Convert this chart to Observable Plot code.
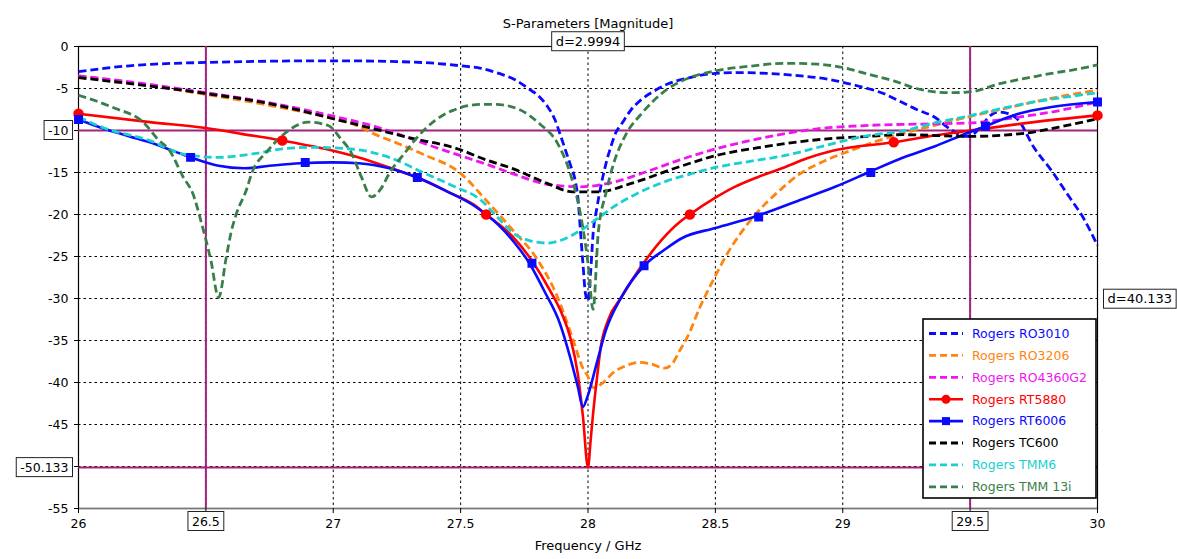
<!DOCTYPE html>
<html>
<head>
<meta charset="utf-8">
<script src="https://cdn.jsdelivr.net/npm/d3@7"></script>
<script src="https://cdn.jsdelivr.net/npm/@observablehq/plot@0.6"></script>
<style>
  html, body { margin: 0; padding: 0; background: #fff; }
  #chart svg { display: block; font-family: "DejaVu Sans", Verdana, sans-serif; }
</style>
</head>
<body>
<div id="chart"></div>
<script>
// ---------- data (frequency GHz, magnitude dB) ----------
const ro3010 = [[26,-3.0],[26.1,-2.6],[26.2,-2.3],[26.3,-2.1],[26.5,-1.9],[26.75,-1.75],[27.0,-1.7],[27.25,-1.8],[27.4,-2.0],[27.5,-2.3],[27.58,-2.6],[27.65,-3.2],[27.71,-3.9],[27.77,-5.1],[27.81,-6.0],[27.84,-7.1],[27.87,-8.7],[27.89,-10.4],[27.91,-12.2],[27.93,-14.0],[27.95,-16.0],[27.96,-17.9],[27.97,-21.8],[27.98,-25.8],[27.99,-29.4],[28.0,-30.3],[28.01,-27.0],[28.02,-22.3],[28.035,-19.2],[28.05,-16.7],[28.07,-14.0],[28.09,-11.9],[28.11,-10.2],[28.13,-9.3],[28.17,-7.5],[28.21,-6.3],[28.26,-5.3],[28.31,-4.5],[28.4,-3.7],[28.5,-3.2],[28.6,-3.1],[28.7,-3.2],[28.8,-3.4],[28.96,-4.0],[29.06,-4.7],[29.16,-5.6],[29.23,-6.6],[29.29,-7.5],[29.36,-8.4],[29.42,-9.8],[29.48,-10.7],[29.51,-10.5],[29.54,-9.6],[29.58,-8.2],[29.61,-7.8],[29.65,-8.0],[29.69,-8.8],[29.75,-12.0],[29.82,-14.8],[29.88,-17.5],[29.95,-20.7],[30,-23.7]];
const ro3206 = [[26,-3.5],[26.25,-4.5],[26.5,-5.7],[26.75,-7.0],[27.0,-8.6],[27.1,-9.5],[27.16,-10.4],[27.25,-11.5],[27.35,-12.8],[27.5,-15.1],[27.6,-18.3],[27.7,-21.7],[27.8,-25.3],[27.88,-29.8],[27.94,-34.8],[27.98,-38.3],[28.0,-39.3],[28.02,-40.6],[28.06,-40.0],[28.1,-38.8],[28.15,-38.0],[28.2,-37.6],[28.25,-37.8],[28.3,-38.3],[28.33,-37.8],[28.36,-36.2],[28.39,-34.6],[28.44,-31.0],[28.49,-27.9],[28.55,-24.5],[28.6,-22.2],[28.66,-19.9],[28.75,-17.2],[28.83,-15.2],[28.93,-13.6],[29.03,-12.4],[29.13,-11.3],[29.23,-10.4],[29.36,-9.4],[29.49,-8.4],[29.62,-7.5],[29.75,-6.6],[29.88,-5.8],[30,-5.2]];
const ro4360g2 = [[26,-3.5],[26.25,-4.4],[26.5,-5.5],[26.75,-6.7],[27.0,-8.3],[27.15,-9.4],[27.29,-10.8],[27.4,-12.0],[27.5,-13.0],[27.6,-14.0],[27.71,-15.2],[27.84,-16.4],[27.97,-16.7],[28.08,-16.3],[28.23,-14.9],[28.36,-13.5],[28.5,-12.2],[28.7,-10.8],[28.9,-9.8],[29.1,-9.4],[29.36,-9.2],[29.5,-9.1],[29.6,-8.8],[29.69,-8.4],[29.82,-7.8],[30,-6.6]];
const rt5880 = [[26,-8.0],[26.28,-9.0],[26.5,-9.7],[26.64,-10.4],[26.8,-11.2],[27.0,-12.4],[27.1,-13.2],[27.22,-14.4],[27.33,-15.6],[27.45,-17.3],[27.55,-18.8],[27.6,-20.0],[27.7,-22.5],[27.78,-25.5],[27.85,-29.0],[27.9,-32.0],[27.93,-34.6],[27.96,-39.0],[27.98,-44.0],[28.0,-50.1],[28.01,-47.0],[28.02,-43.7],[28.035,-39.5],[28.05,-35.8],[28.08,-32.5],[28.13,-29.9],[28.22,-25.7],[28.29,-23.0],[28.36,-20.9],[28.4,-20.0],[28.5,-18.0],[28.57,-16.8],[28.67,-15.5],[28.77,-14.4],[28.86,-13.3],[28.96,-12.4],[29.2,-11.4],[29.36,-10.6],[29.5,-10.0],[29.75,-9.0],[30,-8.2]];
const rt6006 = [[26,-8.7],[26.1,-9.8],[26.2,-10.7],[26.28,-11.4],[26.36,-12.3],[26.44,-13.2],[26.55,-14.2],[26.65,-14.5],[26.75,-14.2],[26.87,-13.9],[27.0,-13.8],[27.1,-13.9],[27.22,-14.5],[27.33,-15.6],[27.45,-17.3],[27.55,-18.9],[27.65,-21.3],[27.71,-23.3],[27.77,-25.8],[27.83,-29.2],[27.89,-33.0],[27.93,-37.0],[27.96,-40.5],[27.98,-42.9],[28.0,-41.5],[28.03,-38.2],[28.07,-33.8],[28.13,-29.9],[28.22,-26.1],[28.3,-24.2],[28.37,-22.8],[28.5,-21.6],[28.66,-20.2],[28.83,-18.3],[28.97,-16.7],[29.1,-15.0],[29.23,-13.3],[29.36,-11.9],[29.49,-10.3],[29.55,-9.6],[29.69,-8.0],[29.82,-7.2],[30,-6.6]];
const tc600 = [[26,-3.7],[26.25,-4.6],[26.5,-5.6],[26.75,-6.8],[27.0,-8.6],[27.16,-9.8],[27.29,-10.8],[27.49,-12.2],[27.6,-13.5],[27.71,-14.6],[27.84,-16.3],[27.94,-17.3],[28.04,-17.3],[28.17,-16.3],[28.36,-14.3],[28.5,-13.0],[28.7,-11.9],[28.9,-11.1],[29.1,-10.7],[29.23,-10.5],[29.5,-10.7],[29.72,-10.3],[29.88,-9.4],[30,-8.6]];
const tmm6 = [[26,-8.4],[26.1,-9.7],[26.28,-11.2],[26.41,-12.8],[26.55,-13.2],[26.68,-12.8],[26.8,-12.2],[26.9,-12.0],[27.07,-12.2],[27.22,-13.2],[27.36,-15.1],[27.47,-16.6],[27.58,-18.3],[27.65,-20.5],[27.71,-22.3],[27.77,-23.1],[27.84,-23.4],[27.9,-23.0],[27.97,-21.9],[28.05,-20.2],[28.1,-19.1],[28.2,-17.4],[28.31,-16.0],[28.4,-15.2],[28.5,-14.4],[28.63,-13.7],[28.77,-13.0],[28.93,-11.8],[29.1,-10.6],[29.23,-10.1],[29.36,-9.1],[29.49,-8.3],[29.62,-7.4],[29.75,-6.6],[29.88,-6.0],[30,-5.5]];
const tmm13i = [[26,-5.8],[26.13,-7.2],[26.26,-9.2],[26.31,-11.0],[26.36,-12.5],[26.41,-15.5],[26.45,-17.6],[26.48,-20.7],[26.5,-23.0],[26.52,-25.5],[26.55,-29.9],[26.58,-25.1],[26.6,-22.0],[26.62,-19.9],[26.66,-17.0],[26.68,-15.1],[26.74,-12.5],[26.8,-10.6],[26.85,-9.5],[26.9,-9.0],[26.98,-9.4],[27.03,-11.0],[27.07,-12.6],[27.11,-15.5],[27.15,-17.9],[27.19,-16.8],[27.22,-15.1],[27.28,-12.7],[27.33,-10.8],[27.4,-8.8],[27.47,-7.6],[27.58,-6.9],[27.64,-6.9],[27.73,-7.5],[27.81,-9.2],[27.88,-11.5],[27.93,-15.1],[27.97,-19.9],[28.0,-25.8],[28.02,-31.3],[28.04,-22.3],[28.07,-17.5],[28.1,-14.0],[28.15,-10.4],[28.21,-8.0],[28.31,-5.1],[28.4,-3.7],[28.5,-2.9],[28.65,-2.3],[28.77,-2.0],[28.9,-2.1],[29.0,-2.5],[29.1,-3.3],[29.2,-4.1],[29.29,-5.0],[29.36,-5.4],[29.42,-5.5],[29.5,-5.4],[29.62,-4.4],[29.75,-3.6],[29.82,-3.2],[29.9,-2.8],[30,-2.2]];

// marker symbols along the solid curves
const rt5880Markers = [[26,-8.0],[26.8,-11.2],[27.6,-20.0],[28.4,-20.0],[29.2,-11.4],[30,-8.2]];
const rt6006Markers = [[26,-8.7],[26.44,-13.2],[26.89,-13.8],[27.33,-15.6],[27.78,-25.8],[28.22,-26.1],[28.67,-20.3],[29.11,-15.0],[29.56,-9.5],[30,-6.6]];

// series names and legend
const names = ["Rogers RO3010","Rogers RO3206","Rogers RO4360G2","Rogers RT5880","Rogers RT6006","Rogers TC600","Rogers TMM6","Rogers TMM 13i"];
const seriesData = [ro3010, ro3206, ro4360g2, rt5880, rt6006, tc600, tmm6, tmm13i];

// axis ticks
const xTicks = [26, 26.5, 27, 27.5, 28, 28.5, 29, 29.5, 30];
const yTicks = [0, -5, -10, -15, -20, -25, -30, -35, -40, -45, -50, -55];

// markers (vertical at x, horizontal at y) and delta labels
const markerX = [26.5, 29.5];
const markerY = [-10, -50.133];
const markerYLabels = ["-10", "-50.133"];
const deltaLabels = ["d=2.9994", "d=40.133"];

const title = "S-Parameters [Magnitude]";
const xLabel = "Frequency / GHz";

// ---------- styles ----------
const colors = ["#0a0aff","#ff8410","#f014f0","#ff0000","#0a0aff","#000000","#18d0d0","#3a7f4a"];
const dashed = [true,true,true,false,false,true,true,true];
const markerColor = "#a2237f";
const DASH = "8,4";

const lineMarks = seriesData.map((data, i) => Plot.line(data, {
  x: d => d[0], y: d => d[1],
  stroke: colors[i],
  strokeWidth: dashed[i] ? 2.8 : 2.6,
  strokeDasharray: dashed[i] ? DASH : undefined,
  strokeLinecap: dashed[i] ? "butt" : "round",
  curve: "monotone-x",
  className: dashed[i] ? "dashed-line" : "solid-line"
}));

const plot = Plot.plot({
  width: 1177, height: 559,
  marginLeft: 78, marginRight: 80, marginTop: 46, marginBottom: 51,
  x: {domain: [26, 30]},
  y: {domain: [-55, 0]},
  style: {fontFamily: "'DejaVu Sans', Verdana, sans-serif", fontSize: "12.5px", background: "#fff", color: "#000", overflow: "visible"},
  marks: [
    Plot.gridY(yTicks, {stroke: "#000", strokeOpacity: 1, strokeDasharray: "2.5,3", strokeWidth: 1}),
    Plot.gridX(xTicks, {stroke: "#000", strokeOpacity: 1, strokeDasharray: "2.5,3", strokeWidth: 1}),
    Plot.frame({stroke: "#000", strokeWidth: 1.2}),
    Plot.ruleY([-55], {stroke: "#777", strokeWidth: 1.5}),
    Plot.axisY(yTicks, {tickSize: 4, tickPadding: 6, label: null,
      tickFormat: d => (markerY.some(m => Math.round(m) === d)) ? "" : String(d)}),
    Plot.axisX(xTicks, {tickSize: 5, tickPadding: 6, label: null,
      tickFormat: d => markerX.includes(d) ? "" : String(d)}),
    // marker lines
    Plot.ruleX(markerX, {stroke: markerColor, strokeWidth: 2}),
    Plot.ruleY(markerY, {stroke: markerColor, strokeWidth: 2}),
    ...lineMarks,
    Plot.dot(rt5880Markers, {x: d => d[0], y: d => d[1], r: 4.5, fill: colors[3], stroke: colors[3]}),
    Plot.dot(rt6006Markers, {x: d => d[0], y: d => d[1], r: 4.2, symbol: "square", fill: colors[4], stroke: colors[4]}),
    // title and axis label
    Plot.text([title], {frameAnchor: "top", dy: -28, text: d => d, fontSize: 13}),
    Plot.text([xLabel], {frameAnchor: "bottom", dy: 41, text: d => d, fontSize: 13}),
    // boxed marker labels
    Plot.text(markerX, {x: d => d, frameAnchor: "bottom", dy: 17, text: d => String(d), className: "boxed"}),
    Plot.text(markerY, {y: d => d, frameAnchor: "left", textAnchor: "end", dx: -10, text: (d, i) => markerYLabels[i], className: "boxed"}),
    Plot.text([deltaLabels[0]], {x: () => d3.mean(markerX), frameAnchor: "top", dy: -10, text: d => d, fontSize: 13, className: "boxed"}),
    Plot.text([deltaLabels[1]], {y: () => d3.mean(markerY), frameAnchor: "right", textAnchor: "start", dx: 10, text: d => d, fontSize: 13, className: "boxed"})
  ]
});

document.getElementById("chart").appendChild(plot);
const svg = d3.select(plot);

// make sure dashed curves keep crisp (butt-capped) dashes
svg.selectAll("g.dashed-line, g.dashed-line path")
  .style("stroke-dasharray", DASH).style("stroke-linecap", "butt");

// boxes behind boxed labels
svg.selectAll("g.boxed text").each(function () {
  const b = this.getBBox();
  const padX = 4, padY = 2;
  d3.select(this.parentNode).insert("rect", () => this)
    .attr("x", b.x - padX).attr("y", b.y - padY)
    .attr("width", b.width + 2 * padX).attr("height", b.height + 2 * padY)
    .attr("transform", this.getAttribute("transform"))
    .attr("fill", "#fff").attr("stroke", "#222").attr("stroke-width", 1);
});

// legend (inside plot, bottom right)
const lg = svg.append("g").attr("transform", "translate(923,319)").attr("text-anchor", "start");
const rowH = 21.9;
lg.append("rect").attr("x", 0).attr("y", 0).attr("width", 173).attr("height", 179)
  .attr("fill", "#fff").attr("stroke", "#000").attr("stroke-width", 1.6);
names.forEach((name, i) => {
  const cy = 14.5 + i * rowH;
  const g = lg.append("g");
  g.append("line").attr("x1", 6).attr("x2", 40).attr("y1", cy).attr("y2", cy)
    .attr("stroke", colors[i]).attr("stroke-width", dashed[i] ? 2.8 : 2.6)
    .style("stroke-dasharray", dashed[i] ? "7,4" : "none");
  if (i === 3) g.append("circle").attr("cx", 23).attr("cy", cy).attr("r", 4.5).attr("fill", colors[i]);
  if (i === 4) g.append("rect").attr("x", 19).attr("y", cy - 4).attr("width", 8).attr("height", 8).attr("fill", colors[i]);
  g.append("text").attr("x", 49).attr("y", cy).attr("dy", "0.35em").attr("text-anchor", "start")
    .attr("font-size", 12.5).attr("fill", colors[i]).text(name);
});
</script>
</body>
</html>
